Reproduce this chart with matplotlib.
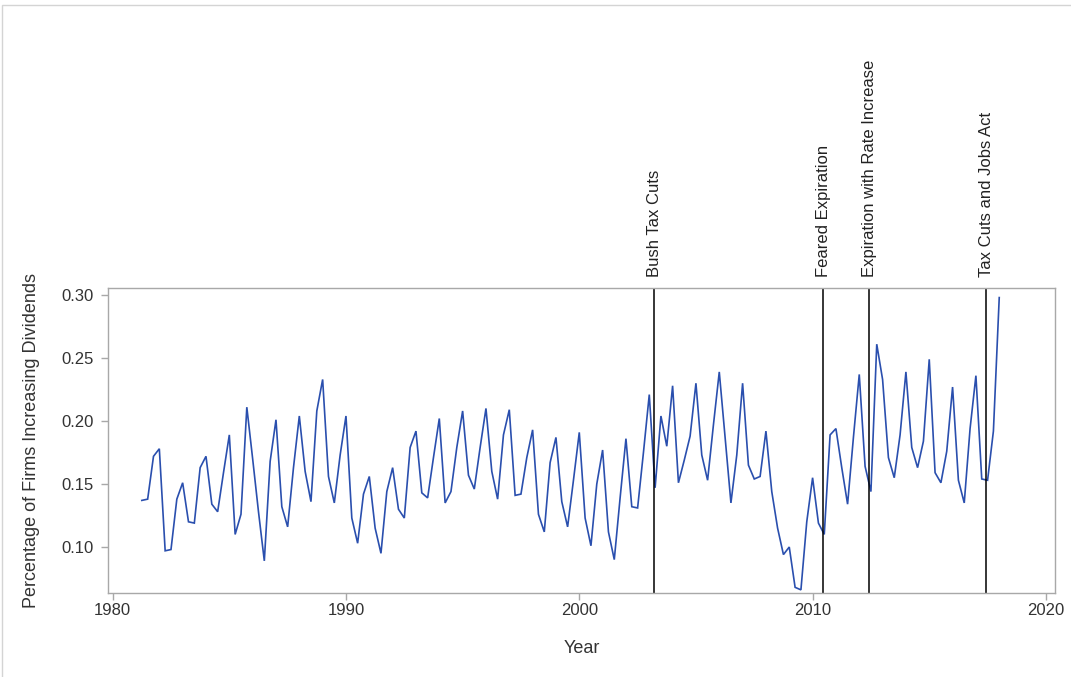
import matplotlib
matplotlib.use("Agg")
import matplotlib.pyplot as plt
import numpy as np
from matplotlib.patches import Rectangle

# quarterly observations, 1981Q2 .. 2018Q1
start_year = 1981.25
values = [
    0.137, 0.138, 0.172, 0.178, 0.097, 0.098, 0.138, 0.151, 0.120, 0.119,
    0.163, 0.172, 0.134, 0.128, 0.159, 0.189, 0.110, 0.126, 0.211, 0.170,
    0.128, 0.089, 0.168, 0.201, 0.132, 0.116, 0.163, 0.204, 0.160, 0.136,
    0.208, 0.233, 0.156, 0.135, 0.173, 0.204, 0.123, 0.103, 0.142, 0.156,
    0.115, 0.095, 0.144, 0.163, 0.130, 0.123, 0.179, 0.192, 0.143, 0.139,
    0.171, 0.202, 0.135, 0.144, 0.179, 0.208, 0.157, 0.146, 0.179, 0.210,
    0.160, 0.138, 0.189, 0.209, 0.141, 0.142, 0.171, 0.193, 0.126, 0.112,
    0.167, 0.187, 0.136, 0.116, 0.153, 0.191, 0.123, 0.101, 0.150, 0.177,
    0.112, 0.090, 0.139, 0.186, 0.132, 0.131, 0.175, 0.221, 0.147, 0.204,
    0.180, 0.228, 0.151, 0.169, 0.188, 0.230, 0.173, 0.153, 0.197, 0.239,
    0.187, 0.135, 0.173, 0.230, 0.165, 0.154, 0.156, 0.192, 0.144, 0.115,
    0.094, 0.100, 0.068, 0.066, 0.120, 0.155, 0.119, 0.110, 0.189, 0.194,
    0.163, 0.134, 0.187, 0.237, 0.164, 0.144, 0.261, 0.233, 0.171, 0.155,
    0.189, 0.239, 0.179, 0.163, 0.184, 0.249, 0.159, 0.151, 0.176, 0.227,
    0.153, 0.135, 0.194, 0.236, 0.154, 0.153, 0.192, 0.298,
]
years = start_year + 0.25 * np.arange(len(values))

event_labels = ["Bush Tax Cuts", "Feared Expiration",
                "Expiration with Rate Increase", "Tax Cuts and Jobs Act"]
event_years = [2003.22, 2010.45, 2012.43, 2017.44]

x_ticks = [1980, 1990, 2000, 2010, 2020]
y_ticks = [0.10, 0.15, 0.20, 0.25, 0.30]

plt.rcParams['font.family'] = ['Liberation Sans', 'DejaVu Sans']

fig = plt.figure(figsize=(10.71, 6.77), dpi=100)
fig.patch.set_facecolor("white")
# outer light frame
fig.patches.append(Rectangle((2 / 1071, -0.05), 1.2, 1 - 5 / 677 + 0.05,
                             transform=fig.transFigure, fill=False,
                             edgecolor="#d4d4d4", linewidth=1.0))

ax = fig.add_axes([108 / 1071, 1 - 593 / 677, (1055 - 108) / 1071, (593 - 288) / 677])
ax.plot(years, values, color="#2a4fae", linewidth=1.2, solid_joinstyle="miter")

for lab, ey in zip(event_labels, event_years):
    ax.axvline(ey, color="black", linewidth=1.1)
    ax.annotate(lab, xy=(ey, 1.0), xycoords=("data", "axes fraction"),
                xytext=(0, 8), textcoords="offset points",
                rotation=90, ha="center", va="bottom", fontsize=12,
                color="#222222")

ax.set_xlim(1979.8, 2020.39)
ax.set_ylim(0.0635, 0.3056)
ax.set_xticks(x_ticks)
ax.set_xticklabels([str(t) for t in x_ticks])
ax.set_yticks(y_ticks)
ax.set_yticklabels([f"{t:.2f}" for t in y_ticks])

for sp in ax.spines.values():
    sp.set_color("#a8a8a8")
    sp.set_linewidth(1.0)
ax.tick_params(axis="both", direction="out", length=5, width=1.0,
               color="#a8a8a8", labelsize=12, labelcolor="#333333")
ax.tick_params(axis="x", pad=2)
ax.tick_params(axis="y", pad=5)

ax.set_xlabel("Year", fontsize=13, color="#333333", labelpad=16)
ax.set_ylabel("Percentage of Firms Increasing Dividends", fontsize=13,
              color="#333333", labelpad=16)

fig.savefig("out.png", dpi=100, facecolor="white")
